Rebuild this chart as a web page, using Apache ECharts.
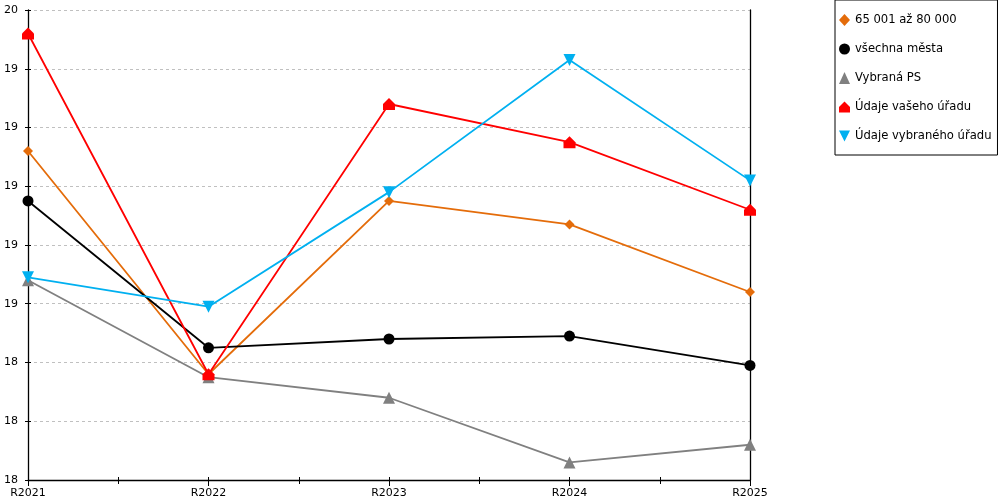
<!DOCTYPE html>
<html>
<head>
<meta charset="utf-8">
<script src="https://cdn.jsdelivr.net/npm/echarts@6/dist/echarts.min.js"></script>
<style>html,body{margin:0;padding:0;background:#fff;}#c{width:1000px;height:500px;}</style>
</head>
<body>
<div id="c"></div>
<script>
var categories = ['R2021', 'R2022', 'R2023', 'R2024', 'R2025'];
var seriesNames = ['65 001 až 80 000', 'všechna města', 'Vybraná PS', 'Údaje vašeho úřadu', 'Údaje vybraného úřadu'];
var vals6580 = [19.12, 18.36, 18.95, 18.87, 18.64];
var valsAll = [18.95, 18.45, 18.48, 18.49, 18.39];
var valsPS = [18.68, 18.35, 18.28, 18.06, 18.12];
var valsYour = [19.52, 18.36, 19.28, 19.15, 18.92];
var valsSel = [18.69, 18.59, 18.98, 19.43, 19.02];
var yMin = 18, yMax = 19.6, yStep = 0.2;

var font = 'DejaVu Sans, Verdana, sans-serif';
var symbols = ['diamond', 'circle', 'triangle', 'path://M5,0 L10,5 L10,10 L0,10 L0,5 Z', 'path://M0,0 L10,0 L5,10 Z'];
var colors = ['#E46C0A', '#000000', '#808080', '#FF0000', '#00B0F0'];
var sizes = [10, 11, 12, 12, 12];
var chart = echarts.init(document.getElementById('c'));

function mk(i, data) {
  return {
    name: seriesNames[i], type: 'line', data: data,
    xAxisIndex: 0, yAxisIndex: 0,
    symbol: symbols[i], symbolSize: sizes[i],
    lineStyle: { color: colors[i], width: 1.8 },
    itemStyle: { color: colors[i] },
    emphasis: { disabled: true }
  };
}

chart.setOption({
  animation: false,
  textStyle: { fontFamily: font },
  grid: { left: 28, right: 250, top: 10, bottom: 20, containLabel: false },
  legend: {
    orient: 'vertical', left: 835, top: 0,
    padding: [14, 6, 13, 4],
    itemGap: 17, itemWidth: 11, itemHeight: 12,
    borderColor: '#000', borderWidth: 1,
    textStyle: { fontSize: 11.6, color: '#000', fontFamily: font },
    data: seriesNames.map(function (n, i) { return { name: n, icon: symbols[i] }; })
  },
  xAxis: [
    {
      type: 'category', data: categories, boundaryGap: false, position: 'bottom',
      axisLine: { onZero: false, lineStyle: { color: '#000', width: 1.3 } },
      axisTick: { show: true, length: 6, alignWithLabel: true, lineStyle: { color: '#000' } },
      axisLabel: { fontSize: 11, color: '#000', margin: 8, fontFamily: font },
      splitLine: { show: false }
    },
    {
      type: 'value', min: 0, max: 4, interval: 0.5, position: 'bottom',
      axisLine: { show: false, onZero: false },
      axisTick: { show: true, length: 4, lineStyle: { color: '#000' } },
      axisLabel: { show: false }, splitLine: { show: false }
    },
    {
      type: 'value', min: 0, max: 4, interval: 0.5, position: 'bottom',
      axisLine: { show: false, onZero: false },
      axisTick: { show: true, inside: true, length: 3, lineStyle: { color: '#000' } },
      axisLabel: { show: false }, splitLine: { show: false }
    }
  ],
  yAxis: [
    {
      type: 'value', min: yMin, max: yMax, interval: yStep, position: 'left',
      axisLine: { show: true, onZero: false, lineStyle: { color: '#000', width: 1.3 } },
      axisTick: { show: true, length: 3, lineStyle: { color: '#000' } },
      axisLabel: { fontSize: 11, color: '#000', margin: 10, fontFamily: font,
        formatter: function (v) { return String(Math.round(v)); } },
      splitLine: { show: true, lineStyle: { color: '#c0c0c0', type: [3, 3], width: 1 } }
    },
    {
      type: 'value', min: yMin, max: yMax, interval: yStep, position: 'left',
      axisLine: { show: false, onZero: false },
      axisTick: { show: true, inside: true, length: 3, lineStyle: { color: '#000' } },
      axisLabel: { show: false }, splitLine: { show: false }
    },
    {
      type: 'value', min: yMin, max: yMax, interval: yStep, position: 'right',
      axisLine: { show: true, onZero: false, lineStyle: { color: '#000', width: 1.3 } },
      axisTick: { show: false }, axisLabel: { show: false }, splitLine: { show: false }
    }
  ],
  series: [
    mk(0, vals6580),
    mk(1, valsAll),
    mk(2, valsPS),
    mk(3, valsYour),
    mk(4, valsSel)
  ]
});
</script>
</body>
</html>
